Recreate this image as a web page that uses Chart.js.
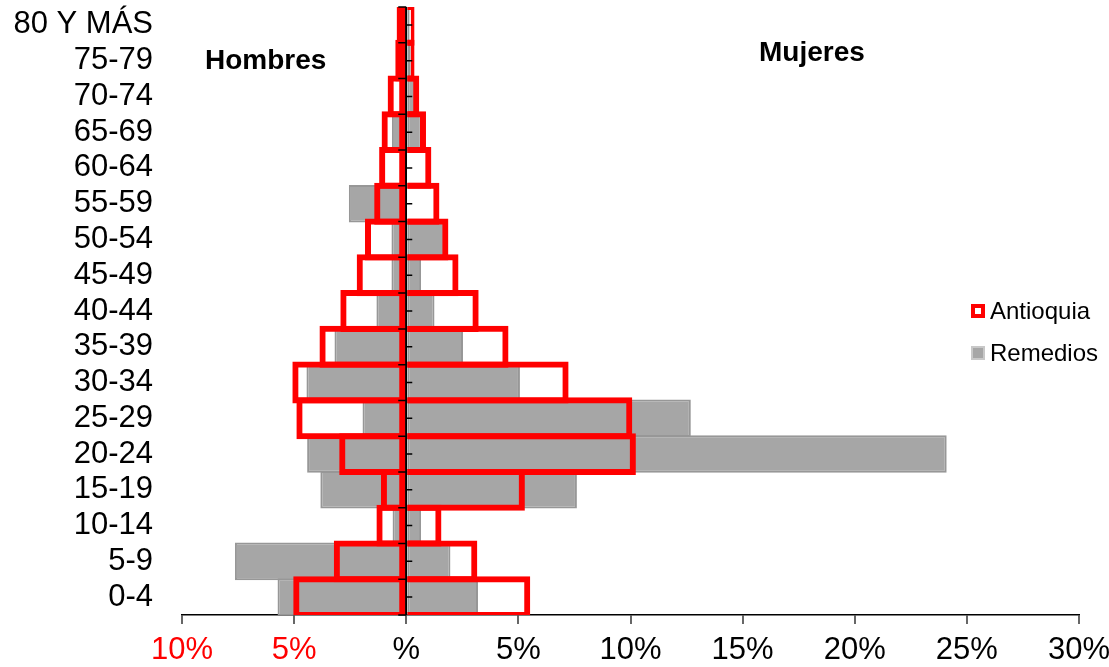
<!DOCTYPE html>
<html lang="es">
<head>
<meta charset="utf-8">
<title>Pirámide poblacional: Remedios y Antioquia</title>
<script src="https://cdn.jsdelivr.net/npm/chart.js@4.4.1/dist/chart.umd.min.js"></script>
<style>
  html, body { margin: 0; padding: 0; background: #ffffff; }
  #wrap { position: relative; width: 1109px; height: 667px; }
</style>
</head>
<body>
<div id="wrap"><canvas id="piramide"></canvas></div>
<script>
// Grupos de edad, de arriba hacia abajo
const grupos = ['80 Y MÁS', '75-79', '70-74', '65-69', '60-64', '55-59', '50-54', '45-49',
                '40-44', '35-39', '30-34', '25-29', '20-24', '15-19', '10-14', '5-9', '0-4'];

// Porcentaje de población por grupo (hombres en negativo)
const antioquiaHombres = [-0.43, -0.49, -0.83, -1.10, -1.21, -1.43, -1.84, -2.21,
                          -2.94, -3.87, -5.08, -4.90, -2.99, -1.13, -1.33, -3.23, -5.04];
const antioquiaMujeres = [0.37, 0.37, 0.58, 0.88, 1.12, 1.48, 1.88, 2.33,
                          3.23, 4.56, 7.24, 10.08, 10.24, 5.29, 1.57, 3.17, 5.53];
const remediosHombres  = [-0.10, -0.10, -0.10, -0.64, 0, -2.56, -0.66, -0.66,
                          -1.33, -3.20, -4.45, -1.95, -4.42, -3.83, -0.61, -7.64, -5.74];
const remediosMujeres  = [0.15, 0.20, 0.43, 0.69, 0, 0, 1.82, 0.66,
                          1.26, 2.53, 5.07, 12.69, 24.10, 7.61, 0.66, 1.97, 3.20];

// Marcas del eje horizontal y sus rótulos
const valoresX   = [-10, -5, 0, 5, 10, 15, 20, 25, 30];
const etiquetasX = ['10%', '5%', '%', '5%', '10%', '15%', '20%', '25%', '30%'];

const FUENTE = "'Liberation Sans', Arial, Helvetica, sans-serif";
const ROJO = '#ff0000';
const GRIS = '#a6a6a6';

const estiloAntioquia = {
  backgroundColor: 'rgba(0,0,0,0)',
  borderColor: ROJO,
  borderWidth: 6,
  barPercentage: 1.17,
  order: 0
};
const estiloRemedios = {
  backgroundColor: GRIS,
  borderColor: '#979797',
  borderWidth: 2,
  borderSkipped: false,
  barPercentage: 1.05,
  order: 1
};

// Marcas cortas sobre el eje central: límites de grupo a la izquierda, centros a la derecha
const marcasCentro = {
  id: 'marcasCentro',
  afterDraw(chart) {
    const ctx = chart.ctx;
    const x0 = chart.scales.x.getPixelForValue(0);
    const ys = chart.scales.y;
    ctx.save();
    ctx.strokeStyle = '#000000';
    ctx.lineWidth = 1.5;
    ctx.beginPath();
    for (let i = 0; i <= grupos.length; i++) {
      const yb = ys.getPixelForValue(i - 0.5);
      ctx.moveTo(x0 - 8, yb);
      ctx.lineTo(x0, yb);
    }
    for (let i = 0; i < grupos.length; i++) {
      const yc = ys.getPixelForValue(i);
      ctx.moveTo(x0, yc);
      ctx.lineTo(x0 + 6, yc);
    }
    ctx.stroke();
    ctx.restore();
  }
};

// Rótulos de sexo y leyenda
const rotulos = {
  id: 'rotulos',
  afterDraw(chart) {
    const ctx = chart.ctx;
    const area = chart.chartArea;
    ctx.save();
    ctx.fillStyle = '#000000';
    ctx.font = 'bold 28px ' + FUENTE;
    ctx.textBaseline = 'middle';
    ctx.textAlign = 'left';
    ctx.fillText('Hombres', 205, 61);
    ctx.fillText('Mujeres', 759, 53);

    // Leyenda
    const lx = area.right - 108;
    const items = [
      { texto: chart.data.datasets[0].label, y: 311, tipo: 'borde' },
      { texto: chart.data.datasets[2].label, y: 353, tipo: 'relleno' }
    ];
    ctx.font = '24px ' + FUENTE;
    items.forEach(it => {
      if (it.tipo === 'borde') {
        ctx.fillStyle = ROJO;
        ctx.fillRect(lx, it.y - 7, 14, 14);
        ctx.fillStyle = '#ffffff';
        ctx.fillRect(lx + 4, it.y - 3, 6, 6);
      } else {
        ctx.fillStyle = '#c8c8c8';
        ctx.fillRect(lx, it.y - 7, 14, 14);
        ctx.fillStyle = GRIS;
        ctx.fillRect(lx + 2, it.y - 5, 10, 10);
      }
      ctx.fillStyle = '#000000';
      ctx.fillText(it.texto, lx + 19, it.y + 1);
    });
    ctx.restore();
  }
};

new Chart(document.getElementById('piramide'), {
  type: 'bar',
  data: {
    labels: grupos,
    datasets: [
      { label: 'Antioquia', data: antioquiaHombres, ...estiloAntioquia, borderSkipped: false },
      { label: 'Antioquia', data: antioquiaMujeres, ...estiloAntioquia, borderSkipped: 'start' },
      { label: 'Remedios', data: remediosHombres, ...estiloRemedios },
      { label: 'Remedios', data: remediosMujeres, ...estiloRemedios }
    ]
  },
  options: {
    indexAxis: 'y',
    responsive: true,
    maintainAspectRatio: false,
    animation: false,
    layout: { padding: { left: 10, right: 30, top: 7, bottom: 0 } },
    datasets: { bar: { categoryPercentage: 1, grouped: false } },
    plugins: {
      legend: { display: false },
      tooltip: { enabled: false }
    },
    scales: {
      x: {
        type: 'linear',
        min: -10,
        max: 30,
        z: 1,
        afterBuildTicks(scale) { scale.ticks = valoresX.map(v => ({ value: v })); },
        afterFit(scale) {
          scale.height = 52;
          scale.paddingLeft = 0;
          scale.paddingRight = 0;
        },
        ticks: {
          autoSkip: false,
          maxRotation: 0,
          padding: 8,
          font: { size: 31, family: FUENTE },
          color: c => (c.tick && c.tick.value < 0 ? ROJO : '#000000'),
          callback: (v, i) => etiquetasX[i]
        },
        grid: {
          color: c => (c.tick && c.tick.value === 0 ? '#000000' : 'rgba(0,0,0,0)'),
          lineWidth: 2,
          tickColor: '#000000',
          tickWidth: 1.2,
          tickLength: 9
        },
        border: { display: true, color: '#000000', width: 1.5 }
      },
      y: {
        type: 'category',
        position: 'left',
        afterFit(scale) {
          scale.width = 172;
          scale.paddingTop = 0;
          scale.paddingBottom = 0;
        },
        grid: { display: false, drawTicks: false },
        border: { display: false },
        ticks: {
          autoSkip: false,
          padding: 29,
          color: '#000000',
          font: { size: 31, family: FUENTE }
        }
      }
    }
  },
  plugins: [marcasCentro, rotulos]
});
</script>
</body>
</html>
